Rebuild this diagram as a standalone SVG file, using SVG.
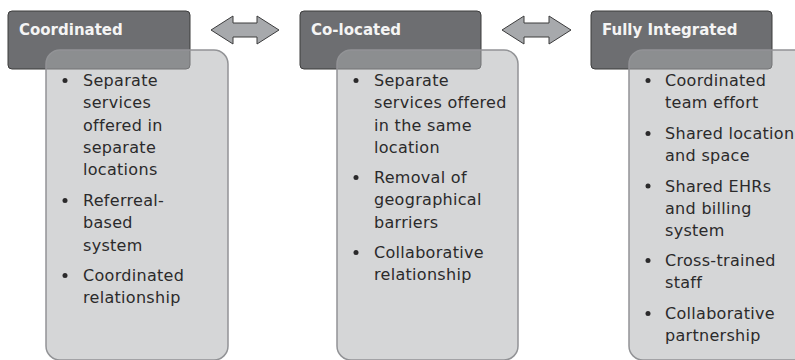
<svg xmlns="http://www.w3.org/2000/svg" width="795" height="360" viewBox="0 0 795 360">
<style>
.hdr{fill:#6d6e71;stroke:#3c3c3d;stroke-width:1}
.body{fill:rgb(172,173,176);fill-opacity:0.5;stroke:#929396;stroke-width:1.5}
.ht{font-family:"DejaVu Sans",sans-serif;font-weight:bold;font-size:15px;fill:#f4f4f4}
.bt{font-family:"DejaVu Sans",sans-serif;font-size:16px;letter-spacing:0.3px;fill:#2b2a2b}
.dot{fill:#2b2a2b}
.arr{fill:#a7a9ac;stroke:#3c3c3d;stroke-width:1}
</style>
<rect width="795" height="360" fill="#ffffff"/>
<g id="connectors">
<path class="arr" d="M211,30 L233,16 L233,23 L257,23 L257,16 L279,30 L257,44 L257,37 L233,37 L233,44 Z"/>
<path class="arr" d="M502,30 L524,16 L524,23 L549,23 L549,16 L571,30 L549,44 L549,37 L524,37 L524,44 Z"/>
</g>
<g id="coordinated">
<rect class="hdr" x="8" y="11" width="182" height="58" rx="4"/>
<text class="ht" x="19" y="34.5">Coordinated</text>
<rect class="body" x="46" y="50" width="182" height="310" rx="14"/>
<circle class="dot" cx="65" cy="80.5" r="2.5"/>
<text class="bt" x="83" y="86">Separate</text>
<text class="bt" x="83" y="108.3">services</text>
<text class="bt" x="83" y="130.6">offered in</text>
<text class="bt" x="83" y="152.9">separate</text>
<text class="bt" x="83" y="175.2">locations</text>
<circle class="dot" cx="65" cy="200.5" r="2.5"/>
<text class="bt" x="83" y="206">Referreal-</text>
<text class="bt" x="83" y="228.3">based</text>
<text class="bt" x="83" y="250.6">system</text>
<circle class="dot" cx="65" cy="275.5" r="2.5"/>
<text class="bt" x="83" y="281">Coordinated</text>
<text class="bt" x="83" y="303.3">relationship</text>
</g>
<g id="colocated">
<rect class="hdr" x="300" y="11" width="181" height="58" rx="4"/>
<text class="ht" x="311" y="34.5">Co-located</text>
<rect class="body" x="337" y="50" width="181" height="310" rx="14"/>
<circle class="dot" cx="356" cy="80.5" r="2.5"/>
<text class="bt" x="374" y="86">Separate</text>
<text class="bt" x="374" y="108.3">services offered</text>
<text class="bt" x="374" y="130.6">in the same</text>
<text class="bt" x="374" y="152.9">location</text>
<circle class="dot" cx="356" cy="177.5" r="2.5"/>
<text class="bt" x="374" y="183">Removal of</text>
<text class="bt" x="374" y="205.3">geographical</text>
<text class="bt" x="374" y="227.6">barriers</text>
<circle class="dot" cx="356" cy="252.5" r="2.5"/>
<text class="bt" x="374" y="258">Collaborative</text>
<text class="bt" x="374" y="280.3">relationship</text>
</g>
<g id="fully-integrated">
<rect class="hdr" x="591" y="11" width="181" height="58" rx="4"/>
<text class="ht" x="602" y="34.5">Fully Integrated</text>
<rect class="body" x="629" y="50" width="182" height="310" rx="14"/>
<circle class="dot" cx="648" cy="80.5" r="2.5"/>
<text class="bt" x="665" y="86">Coordinated</text>
<text class="bt" x="665" y="108.3">team effort</text>
<circle class="dot" cx="648" cy="133.5" r="2.5"/>
<text class="bt" x="665" y="139">Shared location</text>
<text class="bt" x="665" y="161.3">and space</text>
<circle class="dot" cx="648" cy="186" r="2.5"/>
<text class="bt" x="665" y="191.5">Shared EHRs</text>
<text class="bt" x="665" y="213.8">and billing</text>
<text class="bt" x="665" y="236.1">system</text>
<circle class="dot" cx="648" cy="260.5" r="2.5"/>
<text class="bt" x="665" y="266">Cross-trained</text>
<text class="bt" x="665" y="288.3">staff</text>
<circle class="dot" cx="648" cy="313.5" r="2.5"/>
<text class="bt" x="665" y="319">Collaborative</text>
<text class="bt" x="665" y="341.3">partnership</text>
</g>
</svg>
